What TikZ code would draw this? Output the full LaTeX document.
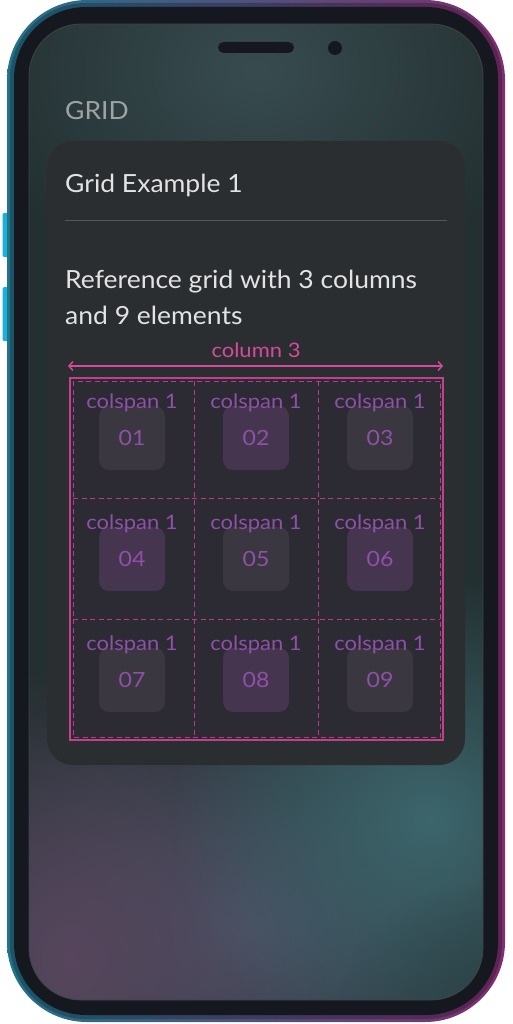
\documentclass[tikz,border=0pt]{standalone}
\usepackage{fontspec}
\setmainfont{Lato}[FakeStretch=1.06]
\newfontfamily\labelfont{Lato}[FakeStretch=1.1]
\usetikzlibrary{positioning,arrows.meta,fadings}

\definecolor{bezel}{HTML}{161820}
\definecolor{phteal}{HTML}{23728A}
\definecolor{phpurple}{HTML}{7E2F70}
\definecolor{btncyan}{HTML}{17B2DA}
\definecolor{scrbase}{HTML}{232F30}
\definecolor{glowtop}{HTML}{384C50}
\definecolor{glowblue}{HTML}{4A5366}
\definecolor{glowplum}{HTML}{57465D}
\definecolor{glowteal}{HTML}{3C666C}
\definecolor{glowdark}{HTML}{2B4448}
\definecolor{scredge}{HTML}{3B4546}
\definecolor{cardbg}{HTML}{2B2E30}
\definecolor{gridbg}{HTML}{2C2A33}
\definecolor{pinkline}{HTML}{D8489C}
\definecolor{celltext}{HTML}{8E50A8}
\definecolor{boxgray}{HTML}{3A3740}
\definecolor{boxpurple}{HTML}{45354F}
\definecolor{greytext}{HTML}{9EA3A3}
\definecolor{whitetext}{HTML}{E2E3E3}
\definecolor{divider}{HTML}{56595A}

\tikzfading[name=glowfade, inner color=transparent!0, outer color=transparent!100]

\begin{document}
\begin{tikzpicture}[x=1pt, y=-1pt,
	textline/.style={anchor=base west, inner sep=0pt, text=whitetext, font=\fontsize{25}{30}\selectfont},
	cellbox/.style={minimum width=66pt, minimum height=64pt, rounded corners=10pt, inner sep=0pt, text=celltext, font=\labelfont\fontsize{21}{25}\selectfont},
	celllabel/.style={anchor=base, inner sep=0pt, text=celltext, font=\labelfont\fontsize{20}{24}\selectfont},
	gridline/.style={pinkline!85!black, line width=0.7pt, dash pattern=on 5pt off 3.5pt}]
	\useasboundingbox (0,0) rectangle (512,1024);

	% side buttons
	\fill[btncyan, rounded corners=1.5pt] (2.5,213) rectangle (9,257);
	\fill[btncyan, rounded corners=1.5pt] (2.5,287) rectangle (9,341);

	% phone body
	\shade[left color=phteal, right color=phpurple, rounded corners=80pt] (7,0) rectangle (505,1022);
	\shade[left color=phteal!75!black, right color=phpurple!75!black, rounded corners=76pt] (10,3) rectangle (502,1019);
	\fill[bezel, rounded corners=72pt] (14,7) rectangle (498,1015);

	% screen
	\begin{scope}
		\clip[rounded corners=52pt] (29,24) rectangle (483,1000);
		\fill[scrbase] (29,24) rectangle (483,1000);
		\fill[glowtop, path fading=glowfade] (256,70) ellipse (300 and 230);
		\fill[glowblue, path fading=glowfade] (240,930) ellipse (330 and 260);
		\fill[glowplum, path fading=glowfade] (70,960) ellipse (260 and 300);
		\fill[glowteal, path fading=glowfade] (430,820) ellipse (260 and 250);
		\fill[glowdark, path fading=glowfade, opacity=0.8] (500,1000) ellipse (160 and 120);
	\end{scope}
	\draw[scredge, line width=0.8pt, rounded corners=52pt] (29,24) rectangle (483,1000);

	% speaker and camera
	\fill[bezel, rounded corners=5.5pt] (218,42) rectangle (294,53);
	\fill[bezel] (335,48) circle (7);

	\node[textline, text=greytext] (title) at (65,120) {GRID};

	% card
	\fill[cardbg, rounded corners=26pt] (47,141) rectangle (465,765);
	\node[textline] (heading) at (65,193) {Grid Example 1};
	\coordinate (divL) at (65,220);
	\coordinate (divR) at (447,220);
	\draw[divider, line width=0.9pt] (divL) -- (divR);
	\node[textline] (desc1) at (65,288) {Reference grid with 3 columns};
	\node[textline] (desc2) at (65,324) {and 9 elements};

	% column header
	\node[celllabel, text=pinkline] (colhdr) at (256,357) {column 3};
	\coordinate (arrL) at (68,366);
	\coordinate (arrR) at (443,366);
	\draw[pinkline, line width=1.4pt, {Straight Barb[length=4pt,width=9pt]}-{Straight Barb[length=4pt,width=9pt]}] (arrL) -- (arrR);

	% grid
	\draw[pinkline!90!black, line width=1.1pt, fill=gridbg] (70,378) rectangle (443,740);
	\draw[gridline] (73,381) rectangle (440,737);
	\foreach \gx in {194,318}
		\draw[gridline] (\gx,381) -- (\gx,737);
	\foreach \gy in {498,619}
		\draw[gridline] (73,\gy) -- (440,\gy);

	\foreach \r in {0,1,2}
		\foreach \c in {0,1,2} {
			\pgfmathtruncatemacro\idx{3*\r+\c+1}
			\pgfmathtruncatemacro\odd{mod(\idx,2)}
			\ifnum\odd=1 \def\boxc{boxgray}\else \def\boxc{boxpurple}\fi
			\node[cellbox, fill=\boxc] (box\idx) at ({132+124*\c},{438+121*\r}) {0\idx};
			\node[celllabel] (lbl\idx) at ({132+124*\c},{408+121*\r}) {colspan 1};
		}
\end{tikzpicture}
\end{document}
